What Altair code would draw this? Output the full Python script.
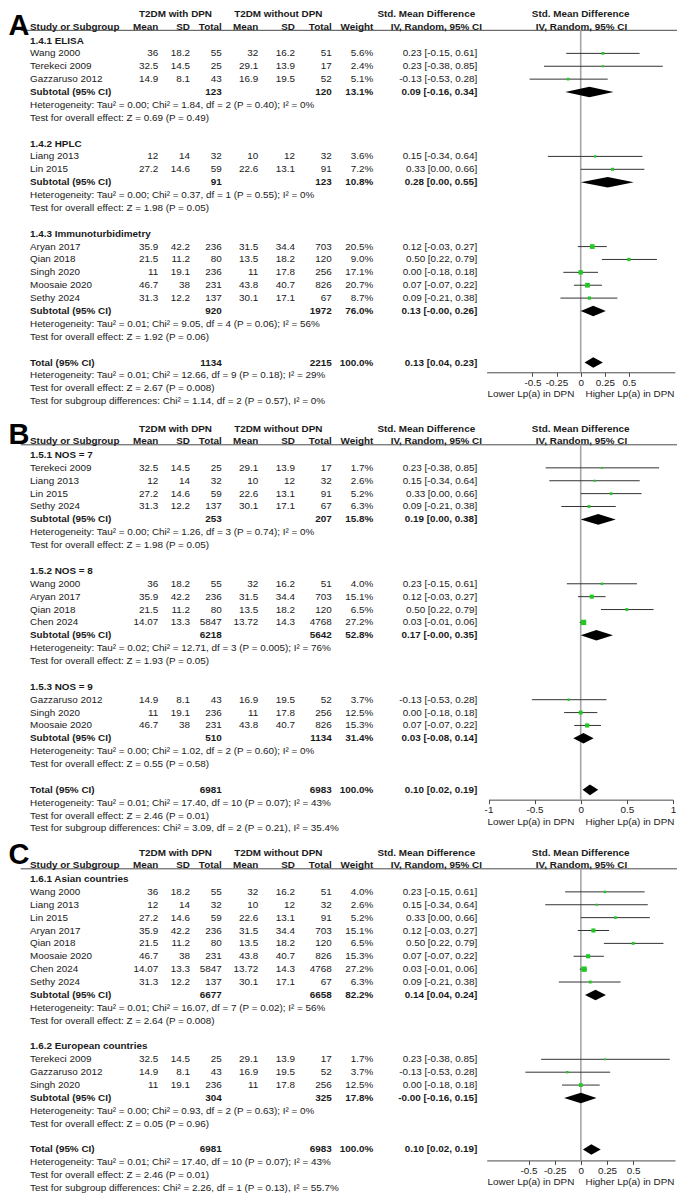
import altair as alt
import pandas as pd

# ---------------- study-level data ----------------
studies = ["Wang 2000", "Terekeci 2009", "Gazzaruso 2012", "Liang 2013", "Lin 2015",
           "Aryan 2017", "Qian 2018", "Singh 2020", "Moosaie 2020", "Sethy 2024", "Chen 2024"]
mean_dpn = [36, 32.5, 14.9, 12, 27.2, 35.9, 21.5, 11, 46.7, 31.3, 14.07]
sd_dpn = [18.2, 14.5, 8.1, 14, 14.6, 42.2, 11.2, 19.1, 38, 12.2, 13.3]
n_dpn = [55, 25, 43, 32, 59, 236, 80, 236, 231, 137, 5847]
mean_ctl = [32, 29.1, 16.9, 10, 22.6, 31.5, 13.5, 11, 43.8, 30.1, 13.72]
sd_ctl = [16.2, 13.9, 19.5, 12, 13.1, 34.4, 18.2, 17.8, 40.7, 17.1, 14.3]
n_ctl = [51, 17, 52, 32, 91, 703, 120, 256, 826, 67, 4768]
smd = [0.23, 0.23, -0.13, 0.15, 0.33, 0.12, 0.50, 0.00, 0.07, 0.09, 0.03]
smd_lo = [-0.15, -0.38, -0.53, -0.34, 0.00, -0.03, 0.22, -0.18, -0.07, -0.21, -0.01]
smd_hi = [0.61, 0.85, 0.28, 0.64, 0.66, 0.27, 0.79, 0.18, 0.22, 0.38, 0.06]

# ---------------- panel A ----------------
a_groups = ["1.4.1 ELISA", "1.4.2 HPLC", "1.4.3 Immunoturbidimetry"]
a_members = [["Wang 2000", "Terekeci 2009", "Gazzaruso 2012"],
             ["Liang 2013", "Lin 2015"],
             ["Aryan 2017", "Qian 2018", "Singh 2020", "Moosaie 2020", "Sethy 2024"]]
a_weights = [[5.6, 2.4, 5.1], [3.6, 7.2], [20.5, 9.0, 17.1, 20.7, 8.7]]
a_sub_n1 = [123, 91, 920]
a_sub_n2 = [120, 123, 1972]
a_sub_w = [13.1, 10.8, 76.0]
a_sub_est = [0.09, 0.28, 0.13]
a_sub_lo = [-0.16, 0.00, -0.0]
a_sub_hi = [0.34, 0.55, 0.26]
a_het = ["Heterogeneity: Tau² = 0.00; Chi² = 1.84, df = 2 (P = 0.40); I² = 0%",
         "Heterogeneity: Tau² = 0.00; Chi² = 0.37, df = 1 (P = 0.55); I² = 0%",
         "Heterogeneity: Tau² = 0.01; Chi² = 9.05, df = 4 (P = 0.06); I² = 56%"]
a_z = ["Test for overall effect: Z = 0.69 (P = 0.49)",
       "Test for overall effect: Z = 1.98 (P = 0.05)",
       "Test for overall effect: Z = 1.92 (P = 0.06)"]
a_total = [1134, 2215, 0.13, 0.04, 0.23]
a_total_text = ["Heterogeneity: Tau² = 0.01; Chi² = 12.66, df = 9 (P = 0.18); I² = 29%",
                "Test for overall effect: Z = 2.67 (P = 0.008)",
                "Test for subgroup differences: Chi² = 1.14, df = 2 (P = 0.57), I² = 0%"]

# ---------------- panel B ----------------
b_groups = ["1.5.1 NOS = 7", "1.5.2 NOS = 8", "1.5.3 NOS = 9"]
b_members = [["Terekeci 2009", "Liang 2013", "Lin 2015", "Sethy 2024"],
             ["Wang 2000", "Aryan 2017", "Qian 2018", "Chen 2024"],
             ["Gazzaruso 2012", "Singh 2020", "Moosaie 2020"]]
b_weights = [[1.7, 2.6, 5.2, 6.3], [4.0, 15.1, 6.5, 27.2], [3.7, 12.5, 15.3]]
b_sub_n1 = [253, 6218, 510]
b_sub_n2 = [207, 5642, 1134]
b_sub_w = [15.8, 52.8, 31.4]
b_sub_est = [0.19, 0.17, 0.03]
b_sub_lo = [0.00, -0.0, -0.08]
b_sub_hi = [0.38, 0.35, 0.14]
b_het = ["Heterogeneity: Tau² = 0.00; Chi² = 1.26, df = 3 (P = 0.74); I² = 0%",
         "Heterogeneity: Tau² = 0.02; Chi² = 12.71, df = 3 (P = 0.005); I² = 76%",
         "Heterogeneity: Tau² = 0.00; Chi² = 1.02, df = 2 (P = 0.60); I² = 0%"]
b_z = ["Test for overall effect: Z = 1.98 (P = 0.05)",
       "Test for overall effect: Z = 1.93 (P = 0.05)",
       "Test for overall effect: Z = 0.55 (P = 0.58)"]
b_total = [6981, 6983, 0.10, 0.02, 0.19]
b_total_text = ["Heterogeneity: Tau² = 0.01; Chi² = 17.40, df = 10 (P = 0.07); I² = 43%",
                "Test for overall effect: Z = 2.46 (P = 0.01)",
                "Test for subgroup differences: Chi² = 3.09, df = 2 (P = 0.21), I² = 35.4%"]

# ---------------- panel C ----------------
c_groups = ["1.6.1 Asian countries", "1.6.2 European countries"]
c_members = [["Wang 2000", "Liang 2013", "Lin 2015", "Aryan 2017", "Qian 2018",
              "Moosaie 2020", "Chen 2024", "Sethy 2024"],
             ["Terekeci 2009", "Gazzaruso 2012", "Singh 2020"]]
c_weights = [[4.0, 2.6, 5.2, 15.1, 6.5, 15.3, 27.2, 6.3], [1.7, 3.7, 12.5]]
c_sub_n1 = [6677, 304]
c_sub_n2 = [6658, 325]
c_sub_w = [82.2, 17.8]
c_sub_est = [0.14, -0.0]
c_sub_lo = [0.04, -0.16]
c_sub_hi = [0.24, 0.15]
c_het = ["Heterogeneity: Tau² = 0.01; Chi² = 16.07, df = 7 (P = 0.02); I² = 56%",
         "Heterogeneity: Tau² = 0.00; Chi² = 0.93, df = 2 (P = 0.63); I² = 0%"]
c_z = ["Test for overall effect: Z = 2.64 (P = 0.008)",
       "Test for overall effect: Z = 0.05 (P = 0.96)"]
c_total = [6981, 6983, 0.10, 0.02, 0.19]
c_total_text = ["Heterogeneity: Tau² = 0.01; Chi² = 17.40, df = 10 (P = 0.07); I² = 43%",
                "Test for overall effect: Z = 2.46 (P = 0.01)",
                "Test for subgroup differences: Chi² = 2.26, df = 1 (P = 0.13), I² = 55.7%"]

axis_ticks_a = [-0.5, -0.25, 0, 0.25, 0.5]
axis_ticks_b = [-1, -0.5, 0, 0.5, 1]
axis_ticks_c = [-0.5, -0.25, 0, 0.25, 0.5]
favours = ["Lower Lp(a) in DPN", "Higher Lp(a) in DPN"]

# ---------------- layout ----------------
FONT = "Liberation Sans"
FS = 9.9
TXT = "#1a1a1a"
W, H = 669, 1186
PITCH = 12.88
TOP = 32.5
yscale = alt.Scale(domain=[-TOP / PITCH, (H - TOP) / PITCH], range=[0, H])
xtab = alt.Scale(domain=[8, 8 + W], range=[0, W])

COLS = {"study": (30, "left"), "m1": (158.3, "right"), "sd1": (190, "right"),
        "n1": (221.7, "right"), "m2": (258.3, "right"), "sd2": (295, "right"),
        "n2": (331.7, "right"), "w": (373.3, "right"), "ci": (477.3, "right")}


def fmt(v):
    return f"{v:g}"


def ci_txt(e, lo, hi):
    return f"{e:.2f} [{lo:.2f}, {hi:.2f}]"


cells = []
HALF = 0.41


def add(line, col, text, bold):
    px, al = COLS[col]
    cells.append(dict(line=line, px=px, label=text, align=al, bold=bold))


def build(off, letter, letter_dy, groups, members, weights, n1s, n2s, ws, ests, los, his,
          hets, zs, tot, tot_text, axis_rel):
    pts, dias = [], []
    for t, px in [("T2DM with DPN", 175.5), ("T2DM without DPN", 278.3),
                  ("Std. Mean Difference", 426.3), ("Std. Mean Difference", 580.7)]:
        cells.append(dict(line=off - 2.05, px=px, label=t, align="center", bold=True))
    cells.append(dict(line=off - 1.08, px=30, label="Study or Subgroup", align="left", bold=True))
    for t, px in [("Mean", 158.3), ("SD", 190), ("Total", 221.7), ("Mean", 258.3),
                  ("SD", 295), ("Total", 331.7), ("Weight", 373.3)]:
        cells.append(dict(line=off - 1.08, px=px, label=t, align="right", bold=True))
    for px in [436.3, 581.5]:
        cells.append(dict(line=off - 1.08, px=px, label="IV, Random, 95% CI", align="center", bold=True))
    r = 0
    for g in range(len(groups)):
        add(off + r, "study", groups[g], True)
        r += 1
        for s, w in zip(members[g], weights[g]):
            i = studies.index(s)
            L = off + r
            add(L, "study", s, False)
            add(L, "m1", fmt(mean_dpn[i]), False)
            add(L, "sd1", fmt(sd_dpn[i]), False)
            add(L, "n1", fmt(n_dpn[i]), False)
            add(L, "m2", fmt(mean_ctl[i]), False)
            add(L, "sd2", fmt(sd_ctl[i]), False)
            add(L, "n2", fmt(n_ctl[i]), False)
            add(L, "w", f"{w:.1f}%", False)
            add(L, "ci", ci_txt(smd[i], smd_lo[i], smd_hi[i]), False)
            pts.append(dict(line=L, est=smd[i], lo=smd_lo[i], hi=smd_hi[i], w=w))
            r += 1
        L = off + r
        add(L, "study", "Subtotal (95% CI)", True)
        add(L, "n1", str(n1s[g]), True)
        add(L, "n2", str(n2s[g]), True)
        add(L, "w", f"{ws[g]:.1f}%", True)
        add(L, "ci", ci_txt(ests[g], los[g], his[g]), True)
        for xv, a, b in [(los[g], L, L), (ests[g], L - HALF, L + HALF), (his[g], L, L)]:
            dias.append(dict(id=f"{letter}{g}", x=xv, ya=a, yb=b))
        r += 1
        add(off + r, "study", hets[g], False)
        r += 1
        add(off + r, "study", zs[g], False)
        r += 2
    L = off + r
    add(L, "study", "Total (95% CI)", True)
    add(L, "n1", str(tot[0]), True)
    add(L, "n2", str(tot[1]), True)
    add(L, "w", "100.0%", True)
    add(L, "ci", ci_txt(tot[2], tot[3], tot[4]), True)
    for xv, a, b in [(tot[3], L, L), (tot[2], L - HALF, L + HALF), (tot[4], L, L)]:
        dias.append(dict(id=f"{letter}T", x=xv, ya=a, yb=b))
    for k, t in enumerate(tot_text):
        add(L + 1 + k, "study", t, False)
    axis_line = off + axis_rel
    letters.append(dict(line=off + letter_dy, px=8.5, label=letter))
    cells.append(dict(line=axis_line + 1.71, px=574.3, label=favours[0], align="right", bold=False))
    cells.append(dict(line=axis_line + 1.71, px=585.5, label=favours[1], align="left", bold=False))
    hdr_rules.append(dict(line=off - 0.79, px=20.7, px2=8 + W))
    return pd.DataFrame(pts), pd.DataFrame(dias), pd.DataFrame(
        [dict(x=0, top=off - 0.79, bottom=axis_line)]), axis_line


letters = []
hdr_rules = []

OFF_A, OFF_B, OFF_C = 0.0, 32.18, 65.1
pa = build(OFF_A, "A", -0.45, a_groups, a_members, a_weights, a_sub_n1, a_sub_n2, a_sub_w,
           a_sub_est, a_sub_lo, a_sub_hi, a_het, a_z, a_total, a_total_text, 25.76)
pb = build(OFF_B, "B", -0.87, b_groups, b_members, b_weights, b_sub_n1, b_sub_n2, b_sub_w,
           b_sub_est, b_sub_lo, b_sub_hi, b_het, b_z, b_total, b_total_text, 26.76)
pc = build(OFF_C, "C", -1.15, c_groups, c_members, c_weights, c_sub_n1, c_sub_n2, c_sub_w,
           c_sub_est, c_sub_lo, c_sub_hi, c_het, c_z, c_total, c_total_text, 21.85)

cells_df = pd.DataFrame(cells)


def text_layer(df, align, bold):
    return alt.Chart(df).mark_text(
        align=align, baseline="middle", font=FONT, fontSize=FS,
        fontWeight="bold" if bold else "normal", color=TXT
    ).encode(
        x=alt.X("px:Q", scale=xtab, axis=None),
        y=alt.Y("line:Q", scale=yscale, axis=None),
        text="label:N",
    )


table_layers = []
for al in ["left", "right", "center"]:
    for bd in [False, True]:
        sub = cells_df[(cells_df["align"] == al) & (cells_df["bold"] == bd)]
        if len(sub):
            table_layers.append(text_layer(sub, al, bd))

rules = alt.Chart(pd.DataFrame(hdr_rules)).mark_rule(color="#4a4a4a", strokeWidth=1).encode(
    x=alt.X("px:Q", scale=xtab, axis=None), x2="px2:Q",
    y=alt.Y("line:Q", scale=yscale, axis=None))

letter_layer = alt.Chart(pd.DataFrame(letters)).mark_text(
    align="left", baseline="alphabetic", font=FONT, fontSize=29, fontWeight="bold", color="#000"
).encode(x=alt.X("px:Q", scale=xtab, axis=None),
         y=alt.Y("line:Q", scale=yscale, axis=None), text="label:N")

table = alt.layer(rules, *table_layers, letter_layer)


def forest(panel, dom, rng, ticks):
    pts, dias, zero, axis_line = panel
    axis_y = TOP + PITCH * axis_line
    xs = alt.Scale(domain=dom, range=rng, nice=False, zero=False)
    ax = alt.Axis(values=ticks, orient="bottom", offset=axis_y - H, title=None, grid=False,
                  domainColor="#4a4a4a", tickColor="#4a4a4a", tickSize=4, domainWidth=1,
                  labelFont=FONT, labelFontSize=FS, labelColor=TXT, labelPadding=1,
                  labelExpr="toString(datum.value)", labelFlush=False)
    zl = alt.Chart(zero).mark_rule(color="#a6a6a6", strokeWidth=1.6).encode(
        x=alt.X("x:Q", scale=xs, axis=ax),
        y=alt.Y("top:Q", scale=yscale, axis=None), y2="bottom:Q")
    ci = alt.Chart(pts).mark_rule(color="#333333", strokeWidth=1).encode(
        x=alt.X("lo:Q", scale=xs, axis=ax), x2="hi:Q",
        y=alt.Y("line:Q", scale=yscale, axis=None))
    sq = alt.Chart(pts).mark_square(color="#22c922", opacity=1).encode(
        x=alt.X("est:Q", scale=xs, axis=ax),
        y=alt.Y("line:Q", scale=yscale, axis=None),
        size=alt.Size("w:Q", scale=alt.Scale(domain=[0, 30], range=[2, 32]), legend=None))
    dm = alt.Chart(dias).mark_area(color="#000000", opacity=1).encode(
        x=alt.X("x:Q", scale=xs, axis=ax),
        y=alt.Y("ya:Q", scale=yscale, axis=None), y2="yb:Q",
        detail="id:N")
    return alt.layer(zl, ci, dm, sq)


fa = forest(pa, [-0.975, 0.975], [478.6, 666.8], axis_ticks_a)
fb = forest(pb, [-1, 1], [480.5, 664.9], axis_ticks_b)
fc = forest(pc, [-0.9, 0.9], [478.7, 667.0], axis_ticks_c)

chart = alt.layer(table, fa, fb, fc).resolve_scale(x="independent").properties(
    width=W, height=H, autosize=alt.AutoSizeParams(type="none"), padding=0
).configure_view(stroke=None)

chart.save("out.html", embed_options={"renderer": "svg", "actions": False})
